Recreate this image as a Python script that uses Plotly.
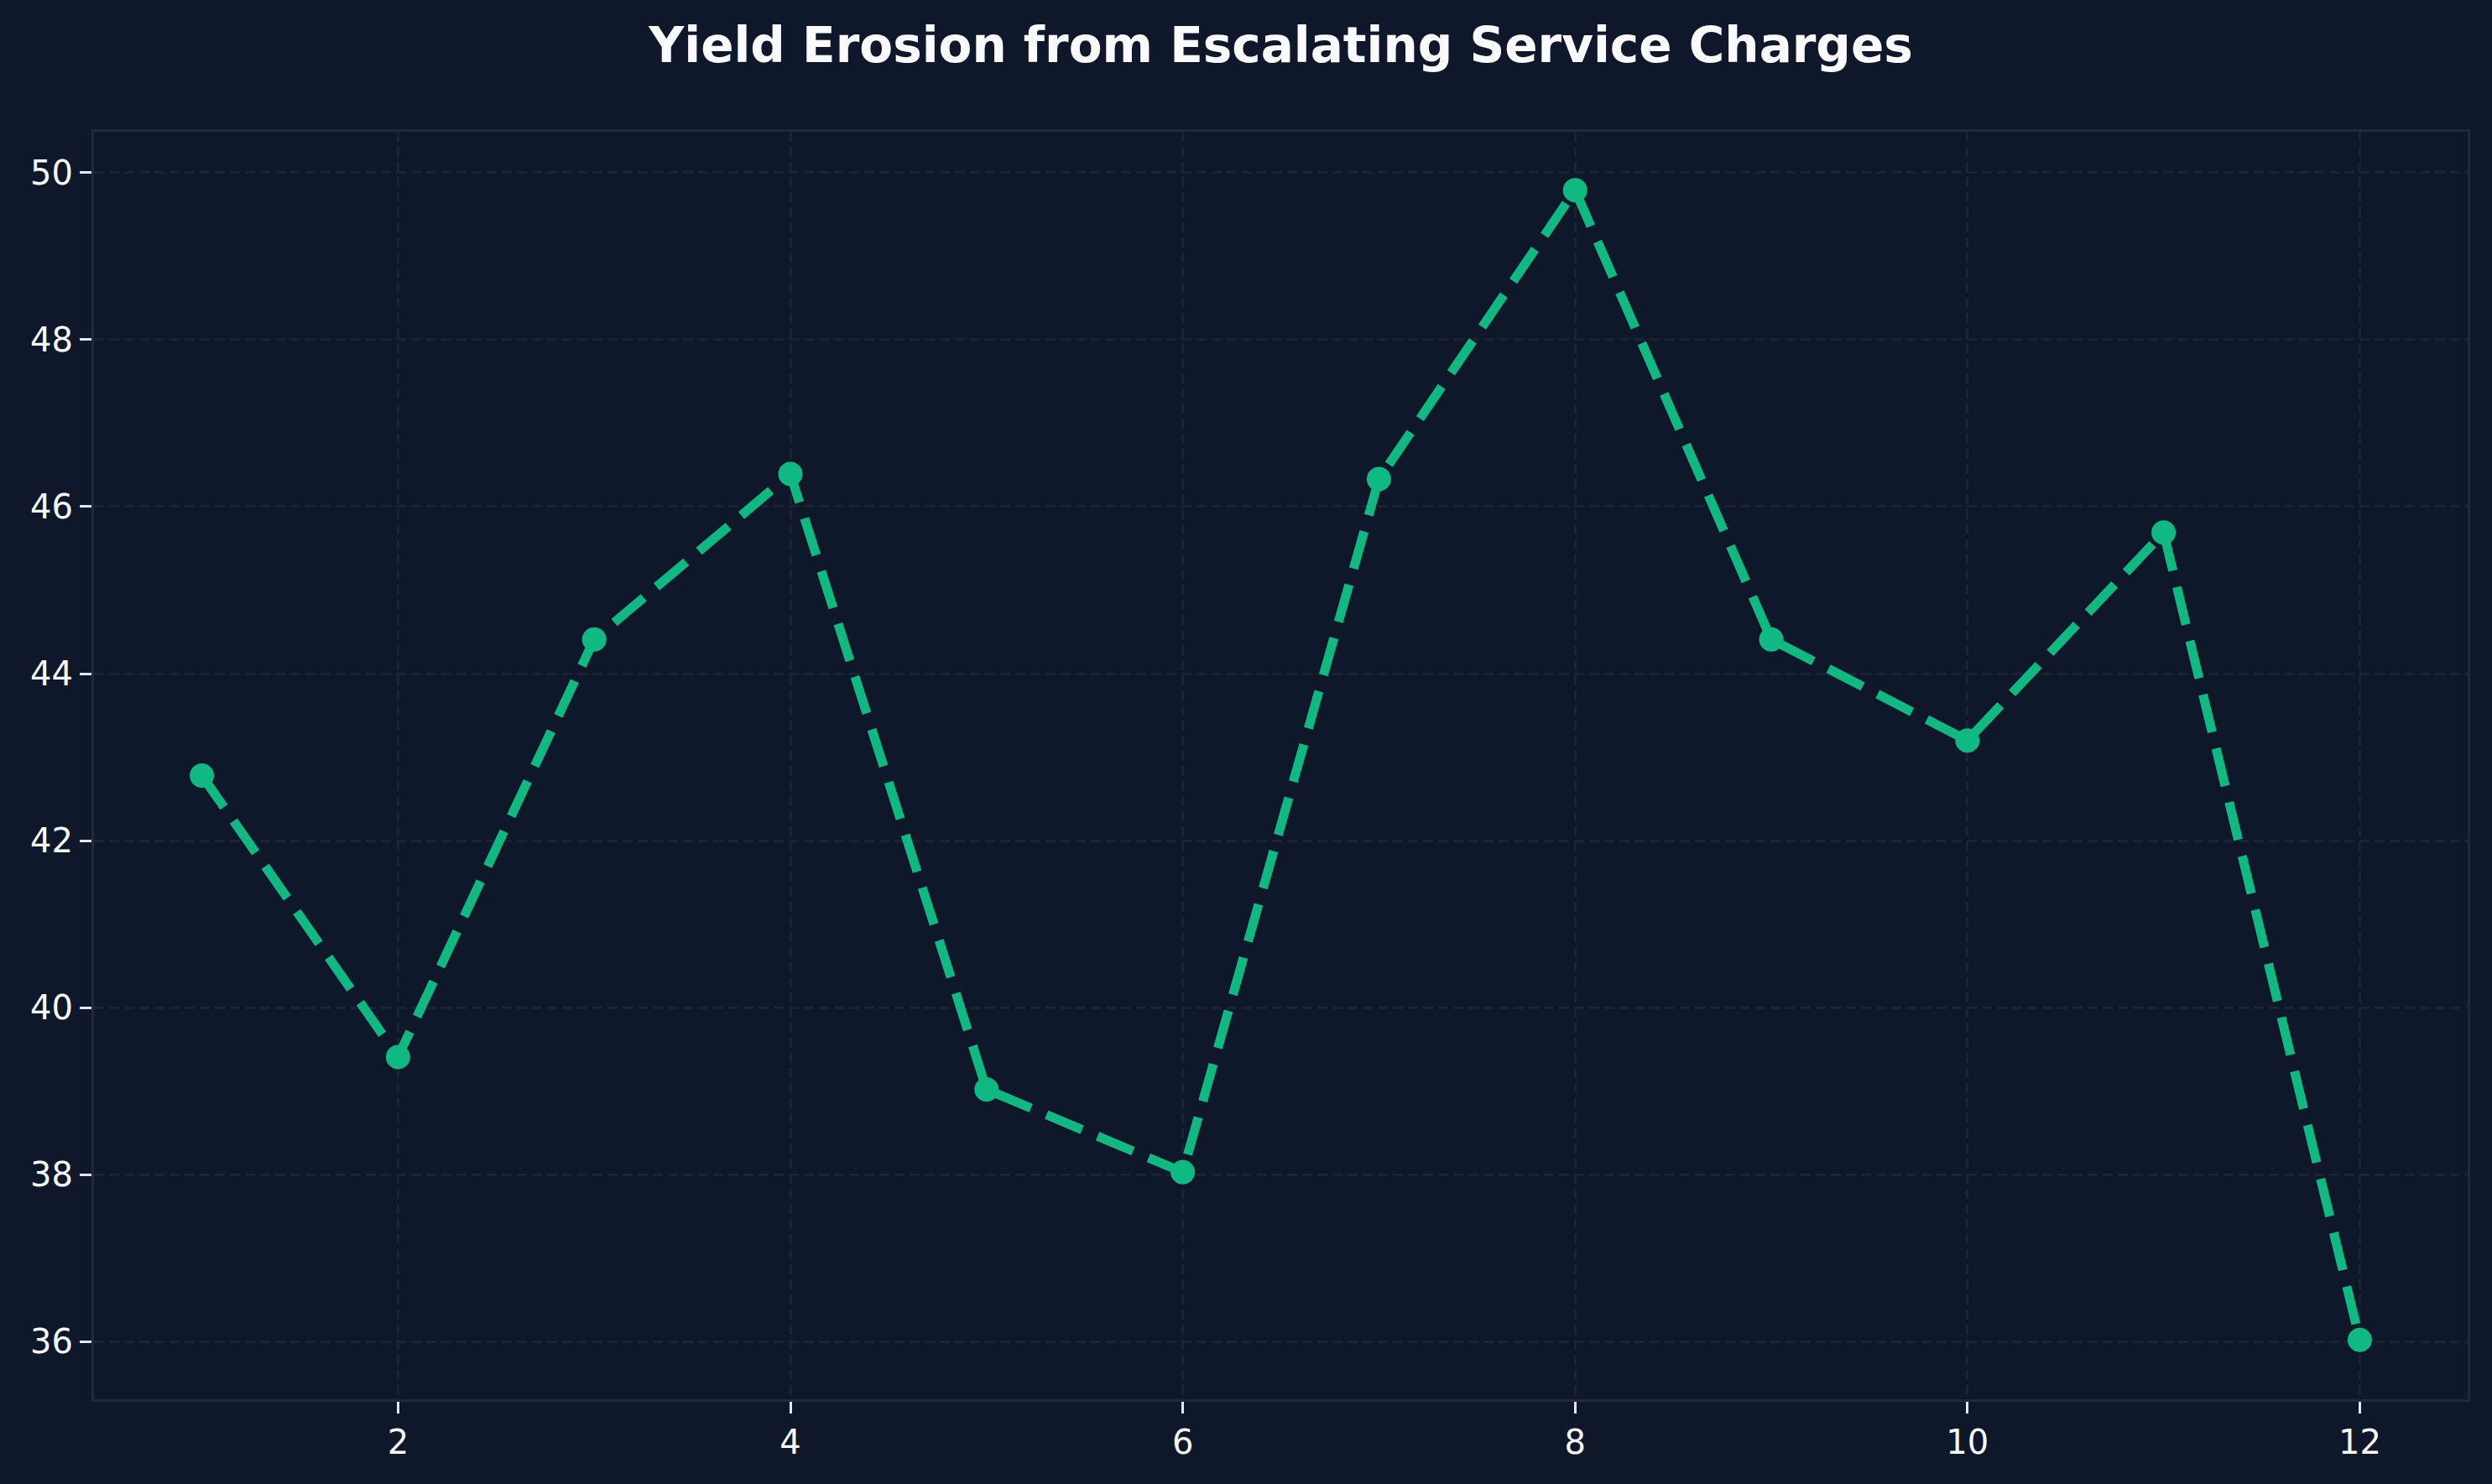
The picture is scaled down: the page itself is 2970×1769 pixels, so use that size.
import plotly.graph_objects as go

x_vals = [1, 2, 3, 4, 5, 6, 7, 8, 9, 10, 11, 12]
y_vals = [42.78, 39.41, 44.41, 46.39, 39.02, 38.03, 46.33, 49.79, 44.41, 43.20, 45.69, 36.02]
title_text = "Yield Erosion from Escalating Service Charges"
x_ticks = [2, 4, 6, 8, 10, 12]
y_ticks = [36, 38, 40, 42, 44, 46, 48, 50]

BG = "#0f172a"
LINE = "#10b981"
GRID = "#1b2436"
SPINE = "#1f2a3b"
TEXT = "#f8fafc"

fig = go.Figure()
fig.add_trace(go.Scatter(
    x=x_vals, y=y_vals, mode="lines+markers",
    line=dict(color=LINE, width=11, dash="46px,20px"),
    marker=dict(color=LINE, size=29, symbol="circle"),
    showlegend=False,
))

axis_common = dict(
    showgrid=True, gridcolor=GRID, gridwidth=3, griddash="12px,6px",
    zeroline=False, showline=True, linecolor=SPINE, linewidth=3, mirror=True,
    ticks="outside", ticklen=14, tickwidth=3, tickcolor="#e2e8f0",
    tickfont=dict(family="DejaVu Sans", size=40, color=TEXT),
)

fig.update_xaxes(range=[0.45, 12.55], tickvals=x_ticks, ticktext=[str(v) for v in x_ticks], **axis_common)
fig.update_yaxes(range=[35.31, 50.49], tickvals=y_ticks, ticktext=[str(v) for v in y_ticks], **axis_common)

fig.update_layout(
    width=2970, height=1769,
    paper_bgcolor=BG, plot_bgcolor=BG,
    margin=dict(l=112, r=29, t=157, b=101),
    title=dict(text="<b>" + title_text + "</b>", x=0.5, xref="paper", xanchor="center",
               y=1 - 54 / 1769, yref="container", yanchor="middle",
               font=dict(family="DejaVu Sans", size=58, color=TEXT)),
)

fig.write_html("out.html")
